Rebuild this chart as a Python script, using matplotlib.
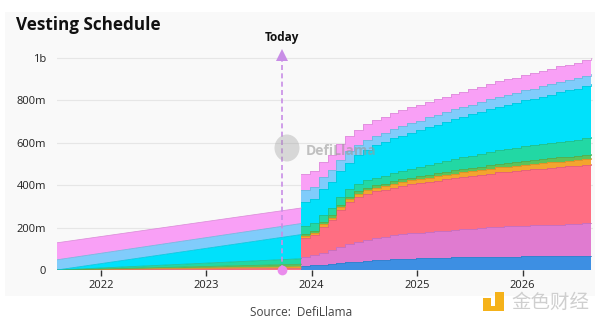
import numpy as np
import pandas as pd
import matplotlib
matplotlib.use("Agg")
import matplotlib.pyplot as plt
import matplotlib.dates as mdates
import matplotlib.colors as mcolors
from matplotlib.patches import Rectangle, Ellipse

plt.rcParams['font.family'] = ['Open Sans', 'DejaVu Sans']

# ---------------- data (millions of tokens) ----------------
pre_dates = ["2021-08-02", "2023-11-27"]          # linear vesting before the cliff
post_start = "2023-11-27"                          # monthly unlocks after the cliff
post_months = 34
today_date = "2023-09-19"

layer_colors = ["#3d8fe3", "#e07bd0", "#ff6e82", "#f4a42e", "#5cc35a",
                "#22d8a4", "#00e1fb", "#80ccfb", "#f9a0f6"]

blue_pre   = [0, 0]
orchid_pre = [0, 0]
red_pre    = [0, 7]
orange_pre = [0, 8]
green_pre  = [0, 12]
teal_pre   = [0, 26]
cyan_pre   = [0, 114]
lblue_pre  = [48, 52]
pink_pre   = [80, 73]

blue_post = [20, 22, 25, 28, 32, 36, 39, 42, 45, 47, 50, 52, 54, 55, 56, 57, 58,
             59, 60, 60, 61, 62, 63, 63, 63, 64, 64, 64, 65, 65, 65, 65, 66, 66]
orchid_post = [43, 49, 57, 66, 78, 86, 94, 99, 104, 107, 113, 116, 118, 120, 123,
               125, 127, 130, 132, 134, 136, 139, 141, 142, 143, 145, 146, 147,
               148, 149, 150, 151, 153, 154]
red_post = [88, 94, 122, 141, 172, 198, 212, 218, 221, 223, 225, 228, 231, 233,
            236, 239, 241, 244, 246, 249, 251, 253, 255, 257, 259, 262, 264, 266,
            268, 271, 273, 275, 277, 279]
orange_post = [9, 10, 11, 12, 13, 14, 15, 16, 17, 17, 18, 18, 19, 19, 20, 20, 21,
               21, 22, 22, 23, 23, 24, 24, 24, 24, 25, 25, 25, 25, 26, 26, 26, 26]
green_post = [9, 9, 10, 10, 11, 11, 11, 12, 12, 12, 13, 13, 13, 14, 14, 14, 14,
              15, 15, 15, 16, 16, 16, 17, 17, 18, 18, 19, 19, 20, 20, 21, 21, 22]
teal_post = [36, 36, 36, 36, 36, 36, 36, 36, 36, 36, 36, 38, 41, 43, 46, 48, 51,
             53, 56, 58, 61, 63, 66, 67, 68, 69, 70, 71, 72, 73, 74, 75, 77, 78]
cyan_post = [114, 115, 118, 120, 122, 124, 132, 143, 152, 160, 165, 168, 171, 174,
             178, 181, 184, 188, 191, 194, 197, 201, 204, 208, 212, 216, 220, 224,
             229, 233, 237, 241, 245, 249]
lblue_post = [58, 58, 58, 58, 56, 54, 50, 47, 46, 45, 45, 45, 45, 45, 45, 46, 46,
              46, 46, 46, 46, 47, 47, 47, 47, 47, 47, 48, 48, 48, 48, 48, 48, 48]
pink_post = [74, 72, 72, 72, 72, 72, 72, 72, 73, 74, 75, 75, 75, 74, 74, 73, 73,
             73, 72, 72, 72, 72, 72, 72, 73, 73, 73, 73, 74, 74, 74, 74, 74, 74]

y_ticks = [0, 200, 400, 600, 800, 1000]
y_tick_labels = ["0", "200m", "400m", "600m", "800m", "1b"]

# ---------------- figure ----------------
W, H = 600, 323
fig = plt.figure(figsize=(W / 100, H / 100), dpi=100)
fig.patch.set_facecolor("white")

def fx(px):
    return px / W

def fy(py):
    return 1 - py / H

fig.add_artist(Rectangle((fx(5), fy(296)), 590 / W, 284 / H,
                         transform=fig.transFigure, facecolor="#f9f9f9",
                         edgecolor="none", zorder=0))

ax = fig.add_axes([fx(57), fy(270), (593 - 57) / W, (270 - 45) / H])
ax.set_facecolor("none")

x_pre = pd.to_datetime(pre_dates)
x_post = pd.date_range(post_start, periods=post_months, freq=pd.DateOffset(months=1))

pre_layers = np.array([blue_pre, orchid_pre, red_pre, orange_pre, green_pre,
                       teal_pre, cyan_pre, lblue_pre, pink_pre], dtype=float)
post_layers = np.array([blue_post, orchid_post, red_post, orange_post, green_post,
                        teal_post, cyan_post, lblue_post, pink_post], dtype=float)

ax.stackplot(x_pre, pre_layers, colors=layer_colors, linewidth=0, zorder=2)
ax.stackplot(x_post, post_layers, colors=layer_colors, linewidth=0, step="post", zorder=2)

def darker(c, f=0.88):
    r, g, b = mcolors.to_rgb(c)
    return (r * f, g * f, b * f)

cum_pre = np.cumsum(pre_layers, axis=0)
cum_post = np.cumsum(post_layers, axis=0)
for i, c in enumerate(layer_colors):
    ax.plot(x_pre, cum_pre[i], color=darker(c), lw=0.55, zorder=3)
    ax.step(x_post, cum_post[i], where="post", color=darker(c), lw=0.55, zorder=3)

ax.set_xlim(pd.Timestamp("2021-08-02"), pd.Timestamp("2026-09-02"))
ax.set_ylim(0, 1059)
ax.set_yticks(y_ticks)
ax.set_yticklabels(y_tick_labels)
ax.yaxis.grid(True, color="#e6e6e6", lw=0.8)
ax.set_axisbelow(True)
ax.xaxis.set_major_locator(mdates.YearLocator())
ax.xaxis.set_major_formatter(mdates.DateFormatter("%Y"))
for s in ax.spines.values():
    s.set_visible(False)
ax.tick_params(axis="y", length=0, pad=8, labelsize=8, labelcolor="#222222")
ax.tick_params(axis="x", length=4, width=1, color="#333333", pad=3,
               labelsize=8, labelcolor="#222222")

# Today marker
today = pd.Timestamp(today_date)
ax.plot([today, today], [0, 1000], ls=(0, (3, 2)), color="#c88de6", lw=1.2, zorder=5)
ax.plot([today], [1012], marker="^", ms=8, color="#c88de6", zorder=6, clip_on=False,
        markeredgewidth=0)
ax.plot([today], [0], marker="o", ms=7, color="#ea8cec", zorder=7, clip_on=False,
        markeredgewidth=0)
fig.text(fx(282), fy(38), "Today", ha="center", va="center", fontsize=8.5,
         fontweight="bold", color="#111111")

# Title
fig.text(fx(16), fy(30.5), "Vesting Schedule", ha="left", va="baseline",
         fontsize=12.3, fontweight="bold", color="#111111")

# DefiLlama watermark
fig.add_artist(Ellipse((fx(287), fy(148)), 25 / W, 27 / H, transform=fig.transFigure,
                       facecolor="#9a9a9a", alpha=0.35, edgecolor="none", zorder=8))
fig.text(fx(306), fy(151), "DefiLlama", ha="left", va="center", fontsize=10,
         fontweight="bold", color="#9a9a9a", alpha=0.6, zorder=8)

# Source
fig.text(fx(301), fy(313), "Source:  DefiLlama", ha="center", va="center",
         fontsize=8.5, color="#444444")

# 金色财经 watermark
for (x0, y0, w, h) in [(483, 298, 8, 9), (495, 292, 9, 18), (483, 306, 21, 5)]:
    fig.add_artist(Rectangle((fx(x0), fy(y0 + h)), w / W, h / H,
                             transform=fig.transFigure, facecolor="#f5b21a",
                             edgecolor="none", zorder=8))
fig.text(fx(550), fy(302), "金色财经", ha="center", va="center", fontsize=14,
         family=["Noto Sans CJK SC", "DejaVu Sans"], color="#cfcfcf", zorder=8)

fig.savefig("out.png", dpi=100)
